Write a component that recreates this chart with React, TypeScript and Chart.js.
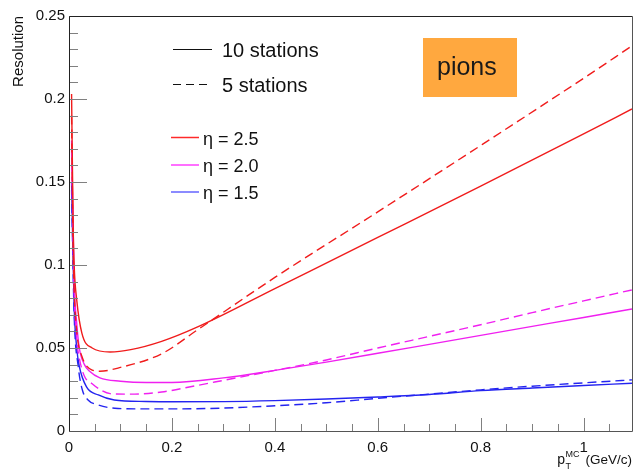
import React, { useEffect, useRef } from "react";
import { Chart, registerables } from "chart.js";

Chart.register(...registerables);

const FONT = "'Liberation Sans', Arial, Helvetica, sans-serif";

// ---- data ----
// eta = 2.5, 10 stations (solid)
const xRed10 = [0.005, 0.008, 0.01, 0.015, 0.025, 0.045, 0.08, 0.12, 0.18, 0.25, 0.4, 0.6, 0.8, 1.0, 1.094];
const yRed10 = [0.203, 0.125, 0.1, 0.079, 0.059, 0.05, 0.0476, 0.049, 0.054, 0.0627, 0.0858, 0.1166, 0.1475, 0.179, 0.194];
// eta = 2.5, 5 stations (dashed)
const xRed5 = [0.005, 0.008, 0.01, 0.015, 0.025, 0.045, 0.06, 0.1, 0.18, 0.25, 0.4, 0.6, 0.8, 1.0, 1.094];
const yRed5 = [0.19, 0.11, 0.085, 0.06, 0.045, 0.0367, 0.036, 0.0383, 0.0465, 0.061, 0.0925, 0.132, 0.172, 0.2125, 0.232];
// eta = 2.0, 10 stations (solid)
const xMag10 = [0.005, 0.01, 0.015, 0.02, 0.03, 0.04, 0.06, 0.1, 0.15, 0.2, 0.3, 0.4, 0.5, 0.6, 0.7, 0.8, 0.9, 1.0, 1.094];
const yMag10 = [0.175, 0.09, 0.065, 0.05, 0.04, 0.036, 0.032, 0.03, 0.0292, 0.0292, 0.032, 0.0365, 0.0415, 0.0468, 0.0522, 0.0576, 0.063, 0.0684, 0.0735];
// eta = 2.0, 5 stations (dashed)
const xMag5 = [0.005, 0.01, 0.015, 0.02, 0.03, 0.045, 0.06, 0.08, 0.12, 0.18, 0.25, 0.3, 0.4, 0.5, 0.6, 0.7, 0.8, 0.9, 1.0, 1.094];
const yMag5 = [0.17, 0.085, 0.055, 0.044, 0.033, 0.0285, 0.025, 0.0225, 0.0222, 0.0235, 0.0275, 0.0305, 0.0365, 0.0428, 0.05, 0.057, 0.064, 0.0713, 0.0784, 0.085];
// eta = 1.5, 10 stations (solid)
const xBlue10 = [0.005, 0.01, 0.015, 0.02, 0.034, 0.057, 0.088, 0.15, 0.2, 0.3, 0.4, 0.5, 0.6, 0.7, 0.8, 0.9, 1.0, 1.094];
const yBlue10 = [0.15, 0.075, 0.05, 0.039, 0.0266, 0.0217, 0.0187, 0.0178, 0.0176, 0.0177, 0.0183, 0.0193, 0.0205, 0.022, 0.0243, 0.0259, 0.0274, 0.0288];
// eta = 1.5, 5 stations (dashed)
const xBlue5 = [0.005, 0.01, 0.018, 0.026, 0.037, 0.057, 0.089, 0.15, 0.2, 0.3, 0.4, 0.5, 0.6, 0.7, 0.8, 0.9, 1.0, 1.094];
const yBlue5 = [0.145, 0.07, 0.0387, 0.0247, 0.0187, 0.0157, 0.0137, 0.0133, 0.0133, 0.0138, 0.0152, 0.017, 0.0197, 0.0222, 0.0248, 0.027, 0.029, 0.0308];

const stationLabels = ["10 stations", "5 stations"];
const etaLabels = ["\u03b7 = 2.5", "\u03b7 = 2.0", "\u03b7 = 1.5"];
const boxLabel = "pions";
const yTitle = "Resolution";

const X_MIN = 0;
const X_MAX = 1.094;
const Y_MIN = 0;
const Y_MAX = 0.25;

const RED = "#f01c1c";
const MAG = "#f020f0";
const BLUE = "#2424f0";
const DASH = [9, 5];

const zip = (xs: number[], ys: number[]) => xs.map((x, i) => ({ x, y: ys[i] }));
const fmt = (v: any) => String(Number(Number(v).toFixed(4)));

const decorPlugin = {
  id: "decor",
  afterDraw(chart: any) {
    const { ctx, chartArea: a, scales } = chart;
    const xs = scales.x;
    const ys = scales.y;
    ctx.save();

    // inside ticks
    ctx.strokeStyle = "#808080";
    ctx.lineWidth = 1;
    ctx.beginPath();
    for (let i = 0; i * 0.05 <= X_MAX + 1e-9; i++) {
      const v = i * 0.05;
      const px = Math.round(xs.getPixelForValue(v)) + 0.5;
      const len = i % 4 === 0 ? 13 : 7;
      ctx.moveTo(px, a.bottom);
      ctx.lineTo(px, a.bottom - len);
    }
    for (let i = 0; i <= 25; i++) {
      const v = i * 0.01;
      const py = Math.round(ys.getPixelForValue(v)) + 0.5;
      const len = i % 5 === 0 ? 18 : 9;
      ctx.moveTo(a.left, py);
      ctx.lineTo(a.left + len, py);
    }
    ctx.stroke();

    // frame
    ctx.strokeStyle = "#222";
    ctx.lineWidth = 1;
    ctx.beginPath();
    ctx.moveTo(a.left + 0.5, a.bottom + 0.5);
    ctx.lineTo(a.left + 0.5, a.top + 0.5);
    ctx.lineTo(a.right + 0.5, a.top + 0.5);
    ctx.stroke();
    ctx.strokeStyle = "#555";
    ctx.beginPath();
    ctx.moveTo(a.right + 0.5, a.top + 0.5);
    ctx.lineTo(a.right + 0.5, a.bottom + 0.5);
    ctx.lineTo(a.left + 0.5, a.bottom + 0.5);
    ctx.stroke();

    // legend: stations
    ctx.fillStyle = "#111";
    ctx.strokeStyle = "#111";
    ctx.lineWidth = 1.2;
    ctx.beginPath();
    ctx.moveTo(173, 49.5);
    ctx.lineTo(212, 49.5);
    ctx.stroke();
    ctx.setLineDash([8, 5]);
    ctx.beginPath();
    ctx.moveTo(173, 84.5);
    ctx.lineTo(212, 84.5);
    ctx.stroke();
    ctx.setLineDash([]);
    ctx.font = `20px ${FONT}`;
    ctx.textAlign = "left";
    ctx.textBaseline = "alphabetic";
    ctx.fillText(stationLabels[0], 222, 57);
    ctx.fillText(stationLabels[1], 222, 92);

    // legend: eta
    const etaCols = ["#ff2a2a", "#ff40ff", "#6464ff"];
    const etaY = [137.5, 165, 192];
    ctx.font = `18px ${FONT}`;
    for (let i = 0; i < 3; i++) {
      ctx.strokeStyle = etaCols[i];
      ctx.lineWidth = 1.5;
      ctx.beginPath();
      ctx.moveTo(171, etaY[i]);
      ctx.lineTo(199, etaY[i]);
      ctx.stroke();
      ctx.fillStyle = "#111";
      ctx.fillText(etaLabels[i], 203, etaY[i] + 7);
    }

    // pions box
    ctx.fillStyle = "#ffa83f";
    ctx.fillRect(423, 38, 94, 59);
    ctx.fillStyle = "#1a1a1a";
    ctx.font = `25px ${FONT}`;
    ctx.fillText(boxLabel, 437, 75);

    // y title
    ctx.save();
    ctx.translate(23, 16);
    ctx.rotate(-Math.PI / 2);
    ctx.textAlign = "right";
    ctx.font = `15px ${FONT}`;
    ctx.fillStyle = "#111";
    ctx.fillText(yTitle, 0, 0);
    ctx.restore();

    // x title: p_T^MC (GeV/c), right-aligned to the frame edge
    ctx.fillStyle = "#111";
    ctx.textAlign = "left";
    ctx.font = `13.5px ${FONT}`;
    const unit = "(GeV/c)";
    const uw = ctx.measureText(unit).width;
    const ux = 632 - uw;
    ctx.fillText(unit, ux, 464);
    ctx.font = `9px ${FONT}`;
    const mw = ctx.measureText("MC").width;
    const sx = ux - 6 - mw;
    ctx.fillText("MC", sx, 457);
    ctx.fillText("T", sx, 469);
    ctx.font = `14px ${FONT}`;
    const pw = ctx.measureText("p").width;
    ctx.fillText("p", sx - pw - 0.5, 464);

    ctx.restore();
  },
};

export default function App() {
  const ref = useRef<HTMLCanvasElement | null>(null);

  useEffect(() => {
    if (!ref.current) return;
    const line = (xs: number[], ys: number[], color: string, dashed: boolean) => ({
      data: zip(xs, ys),
      borderColor: color,
      backgroundColor: color,
      borderWidth: 1.4,
      borderDash: dashed ? DASH : [],
      pointRadius: 0,
      fill: false,
      cubicInterpolationMode: "monotone" as const,
    });
    const chart = new Chart(ref.current, {
      type: "line",
      data: {
        datasets: [
          line(xRed10, yRed10, RED, false),
          line(xRed5, yRed5, RED, true),
          line(xMag10, yMag10, MAG, false),
          line(xMag5, yMag5, MAG, true),
          line(xBlue10, yBlue10, BLUE, false),
          line(xBlue5, yBlue5, BLUE, true),
        ],
      },
      options: {
        responsive: false,
        animation: false,
        events: [],
        layout: { padding: { top: 16, right: 2, left: 0, bottom: 0 } },
        plugins: {
          legend: { display: false },
          tooltip: { enabled: false },
          title: { display: false },
        },
        scales: {
          x: {
            type: "linear",
            min: X_MIN,
            max: X_MAX,
            grid: { display: false, drawTicks: false },
            border: { display: false },
            ticks: {
              stepSize: 0.2,
              includeBounds: false,
              padding: 8,
              maxRotation: 0,
              color: "#111",
              font: { family: FONT, size: 15 },
              callback: (v: any) => fmt(v),
            },
            afterFit: (s: any) => {
              s.height = 40;
            },
          },
          y: {
            type: "linear",
            min: Y_MIN,
            max: Y_MAX,
            grid: { display: false, drawTicks: false },
            border: { display: false },
            ticks: {
              stepSize: 0.05,
              includeBounds: false,
              padding: 4,
              color: "#111",
              font: { family: FONT, size: 15 },
              callback: (v: any) => fmt(v),
            },
            afterFit: (s: any) => {
              s.width = 69;
            },
          },
        },
      },
      plugins: [decorPlugin],
    });
    return () => chart.destroy();
  }, []);

  return (
    <div style={{ position: "absolute", left: 0, top: 0, width: 634, height: 471, background: "#fff" }}>
      <canvas ref={ref} width={634} height={471} style={{ display: "block" }} />
    </div>
  );
}
